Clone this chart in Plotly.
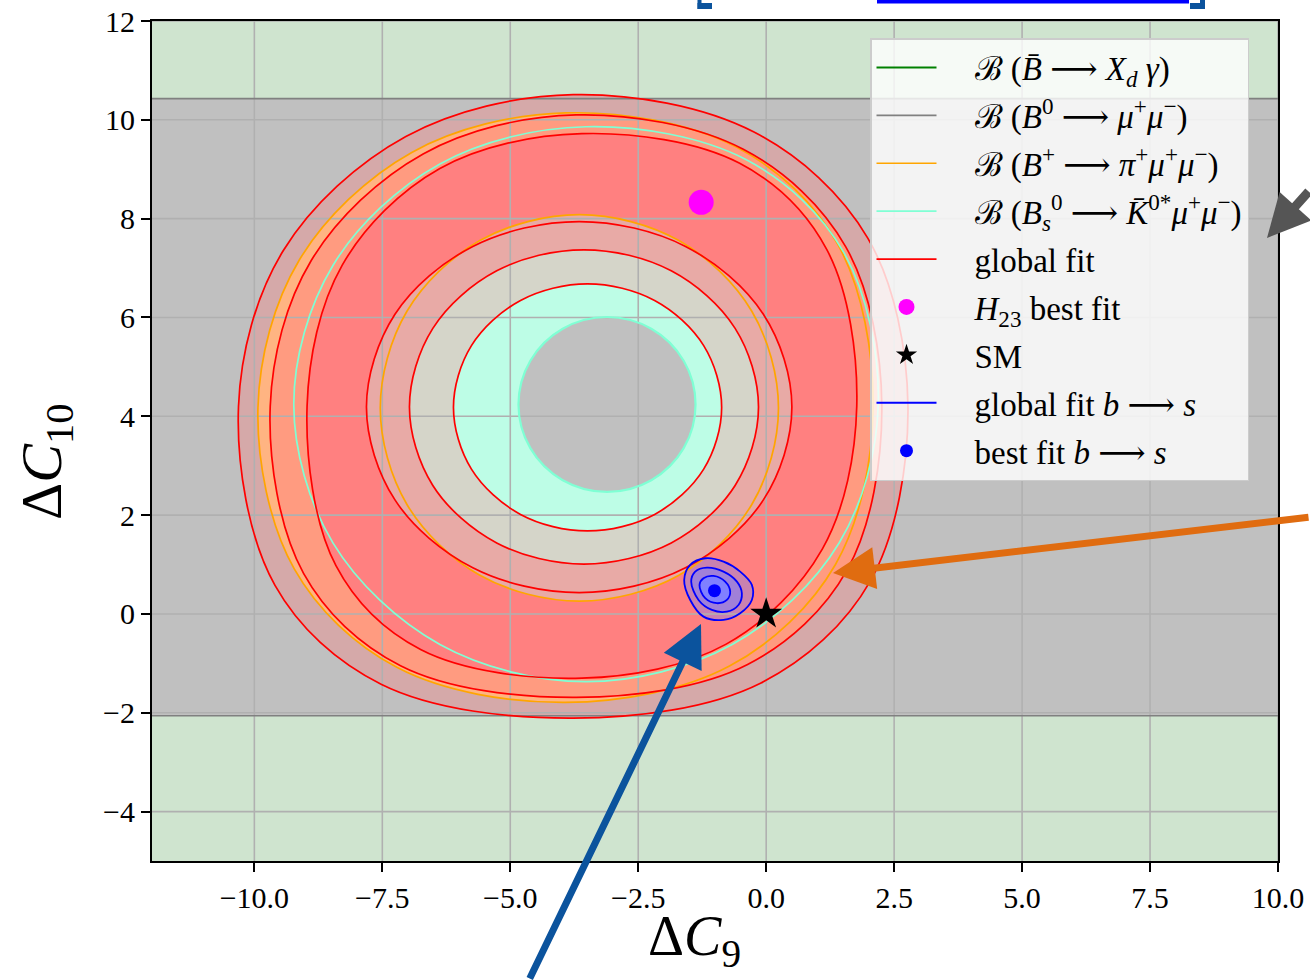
import plotly.graph_objects as go

# ---------------- data ----------------
X_RANGE = [-12, 10]
Y_RANGE = [-5, 12]
X_TICKS = [-10, -7.5, -5, -2.5, 0, 2.5, 5, 7.5, 10]
Y_TICKS = [-4, -2, 0, 2, 4, 6, 8, 10, 12]

# B0 -> mu mu allowed band in Delta C10
B0_BAND = [-2.06, 10.43]

# global fit contours (red): 3 sigma outer/inner, 2 sigma outer/inner, 1 sigma outer/inner
R3O_X = [2.77, 1.985, -0.238, -3.77, -7.04, -9.434, -10.31, -9.597, -7.524, -3.77, -0.101, 2.031]
R3O_Y = [4.20, 7.607, 9.753, 10.51, 9.664, 7.355, 4.20, 0.578, -1.422, -2.11, -1.397, 0.66]
R2O_X = [2.26, 1.555, -0.447, -3.715, -6.703, -8.889, -9.69, -9.039, -7.145, -3.715, -0.363, 1.585]
R2O_Y = [4.205, 7.43, 9.404, 10.10, 9.31, 7.153, 4.205, 0.821, -1.047, -1.69, -1.024, 0.898]
R1O_X = [1.77, 1.185, -0.518, -3.6, -6.376, -8.283, -8.97, -8.406, -6.752, -3.6, -0.781, 1.099]
R1O_Y = [4.21, 7.373, 9.119, 9.72, 9.015, 7.059, 4.21, 0.976, -0.721, -1.30, -0.611, 1.317]
R1I_X = [0.502, -0.055, -1.576, -3.654, -5.732, -7.253, -7.81, -7.253, -5.732, -3.654, -1.576, -0.055]
R1I_Y = [4.186, 6.064, 7.438, 7.941, 7.438, 6.064, 4.186, 2.308, 0.934, 0.431, 0.934, 2.308]
R2I_X = [-0.15, -0.607, -1.855, -3.56, -5.265, -6.513, -6.97, -6.513, -5.265, -3.56, -1.855, -0.607]
R2I_Y = [4.19, 5.78, 6.944, 7.37, 6.944, 5.78, 4.19, 2.6, 1.436, 1.01, 1.436, 2.6]
R3I_X = [-0.87, -1.221, -2.18, -3.49, -4.8, -5.759, -6.11, -5.759, -4.8, -3.49, -2.18, -1.221]
R3I_Y = [4.18, 5.43, 6.345, 6.68, 6.345, 5.43, 4.18, 2.93, 2.015, 1.68, 2.015, 2.93]

# B+ -> pi+ mu+ mu- (orange) outer / inner contour
OO_X = [2.09, 1.399, -0.59, -3.92, -6.925, -9.125, -9.93, -9.221, -7.207, -3.92, -0.717, 1.351]
OO_Y = [4.175, 7.48, 9.454, 10.14, 9.341, 7.158, 4.175, 0.912, -1.086, -1.79, -1.056, 0.996]
OI_X = [0.24, -0.281, -1.705, -3.65, -5.595, -7.019, -7.54, -7.019, -5.595, -3.65, -1.705, -0.281]
OI_Y = [4.17, 6.125, 7.556, 8.08, 7.556, 6.125, 4.17, 2.215, 0.784, 0.26, 0.784, 2.215]

# Bs -> K*0 mu mu (aquamarine) outer / inner contour
CO_X = [2.19, 1.516, -0.397, -3.52, -6.375, -8.465, -9.23, -8.465, -6.375, -3.52, -0.665, 1.425]
CO_Y = [4.245, 7.316, 9.197, 9.86, 9.108, 7.053, 4.245, 1.438, -0.618, -1.37, -0.618, 1.437]
CI_X = [-1.38, -1.612, -2.245, -3.11, -3.975, -4.608, -4.84, -4.608, -3.975, -3.11, -2.245, -1.612]
CI_Y = [4.24, 5.125, 5.773, 6.01, 5.773, 5.125, 4.24, 3.355, 2.707, 2.47, 2.707, 3.355]

# global fit b -> s (blue) contours
BO_X = [-1.602, -1.484, -1.191, -0.833, -0.508, -0.280, -0.280, -0.508, -0.833, -1.225, -1.484]
BO_Y = [0.688, 0.992, 1.127, 1.059, 0.857, 0.587, 0.283, 0.014, -0.121, -0.054, 0.283]
BM_X = [-1.465, -1.387, -1.158, -0.834, -0.572, -0.475, -0.541, -0.768, -1.061, -1.322]
BM_Y = [0.654, 0.856, 0.937, 0.856, 0.654, 0.419, 0.182, 0.047, 0.081, 0.283]
BI_X = [-1.303, -1.225, -1.029, -0.801, -0.703, -0.768, -0.963, -1.191]
BI_Y = [0.587, 0.723, 0.769, 0.654, 0.451, 0.283, 0.217, 0.318]

# points
H23_BEST = [-1.27, 8.33]
SM_POINT = [0.0, 0.0]
BS_BEST = [-1.01, 0.47]

SP = "\u2003"
AR = " ⟶ "
LEGEND_NAMES = [
    SP + "ℬ (<i>B̄</i>" + AR + "<i>X</i><sub><i>d</i></sub> <i>γ</i>)",
    SP + "ℬ (<i>B</i><sup>0</sup>" + AR + "<i>μ</i><sup>+</sup><i>μ</i><sup>−</sup>)",
    SP + "ℬ (<i>B</i><sup>+</sup>" + AR + "<i>π</i><sup>+</sup><i>μ</i><sup>+</sup><i>μ</i><sup>−</sup>)",
    SP + "ℬ (<i>B</i><sub><i>s</i></sub><sup>0</sup>" + AR + "<i>K̄</i><sup>0*</sup><i>μ</i><sup>+</sup><i>μ</i><sup>−</sup>)",
    SP + "global fit",
    SP + "<i>H</i><sub>23</sub> best fit",
    SP + "SM",
    SP + "global fit <i>b</i>" + AR + "<i>s</i>",
    SP + "best fit <i>b</i>" + AR + "<i>s</i>",
]

# ---------------- styling ----------------
FONT = "Liberation Serif, DejaVu Serif, serif"
GREEN_BG = "#cfe4cf"
GRAY_BAND = "#c0c0c0"
RED = "#ff0000"
ORANGE = "#ffa500"
AQUA = "#7fffd4"
BLUE = "#0000ff"

W, H = 1310, 980
ML, MR, MT, MB = 152, 32, 21, 119
PW, PH = W - ML - MR, H - MT - MB


def pxx(p):
    return (p - ML) / PW


def pxy(p):
    return (H - MB - p) / PH


def closed(v):
    return list(v) + [v[0]]


def fill_trace(xs, ys, color):
    return go.Scatter(x=closed(xs), y=closed(ys), mode="lines",
                      line=dict(width=0, shape="spline", smoothing=1),
                      fill="toself", fillcolor=color, hoverinfo="skip",
                      showlegend=False)


def line_trace(xs, ys, color, width=1.7, name=None, rank=None):
    return go.Scatter(x=closed(xs), y=closed(ys), mode="lines",
                      line=dict(color=color, width=width, shape="spline", smoothing=1),
                      hoverinfo="skip", name=name,
                      showlegend=name is not None,
                      legendgroup=name if name else None,
                      legendrank=rank if rank else 1000)


fig = go.Figure()

# gray band (B0 -> mu mu)
fig.add_trace(go.Scatter(
    x=[X_RANGE[0], X_RANGE[1], X_RANGE[1], X_RANGE[0], X_RANGE[0]],
    y=[B0_BAND[0], B0_BAND[0], B0_BAND[1], B0_BAND[1], B0_BAND[0]],
    mode="lines", line=dict(width=0), fill="toself", fillcolor=GRAY_BAND,
    hoverinfo="skip", showlegend=False))

# filled regions, outermost first
fills = [
    (R3O_X, R3O_Y, "#d5a9a9"),
    (OO_X, OO_Y, "#ffb482"),
    (R2O_X, R2O_Y, "#ff9b80"),
    (CO_X, CO_Y, "#ff9b80"),
    (R1O_X, R1O_Y, "#ff8080"),
    (R1I_X, R1I_Y, "#e8aaa6"),
    (OI_X, OI_Y, "#e8aaa6"),
    (R2I_X, R2I_Y, "#d5d5c9"),
    (R3I_X, R3I_Y, "#bdfde6"),
    (CI_X, CI_Y, GRAY_BAND),
    (BO_X, BO_Y, "#c982b0"),
    (BM_X, BM_Y, "#a080d8"),
    (BI_X, BI_Y, "#8080ff"),
]
for xs, ys, c in fills:
    fig.add_trace(fill_trace(xs, ys, c))

# grid lines drawn above the filled regions
gx, gy = [], []
for t in X_TICKS:
    gx += [t, t, None]
    gy += [Y_RANGE[0], Y_RANGE[1], None]
for t in Y_TICKS:
    gx += [X_RANGE[0], X_RANGE[1], None]
    gy += [t, t, None]
fig.add_trace(go.Scatter(x=gx, y=gy, mode="lines", line=dict(color="#b0b0b0", width=1.6),
                         hoverinfo="skip", showlegend=False))

# legend-only entry for B -> X_d gamma (region covers the whole plane)
fig.add_trace(go.Scatter(x=[None], y=[None], mode="lines", line=dict(color="green", width=2),
                         name=LEGEND_NAMES[0], legendgroup="g0", legendrank=1))

# band edges
fig.add_trace(go.Scatter(x=X_RANGE, y=[B0_BAND[1], B0_BAND[1]], mode="lines",
                         line=dict(color="#808080", width=1.7), hoverinfo="skip",
                         name=LEGEND_NAMES[1], legendgroup="g1", legendrank=2))
fig.add_trace(go.Scatter(x=X_RANGE, y=[B0_BAND[0], B0_BAND[0]], mode="lines",
                         line=dict(color="#808080", width=1.7), hoverinfo="skip",
                         showlegend=False))

# orange
fig.add_trace(line_trace(OO_X, OO_Y, ORANGE, name=LEGEND_NAMES[2], rank=3))
fig.add_trace(line_trace(OI_X, OI_Y, ORANGE))
# aquamarine
fig.add_trace(line_trace(CO_X, CO_Y, AQUA, name=LEGEND_NAMES[3], rank=4))
fig.add_trace(line_trace(CI_X, CI_Y, AQUA, width=2.2))
# red
fig.add_trace(line_trace(R3O_X, R3O_Y, RED, name=LEGEND_NAMES[4], rank=5))
for xs, ys in [(R2O_X, R2O_Y), (R1O_X, R1O_Y), (R1I_X, R1I_Y), (R2I_X, R2I_Y), (R3I_X, R3I_Y)]:
    fig.add_trace(line_trace(xs, ys, RED))

# markers
fig.add_trace(go.Scatter(x=[H23_BEST[0]], y=[H23_BEST[1]], mode="markers",
                         marker=dict(color="magenta", size=25, line=dict(width=0)),
                         name=LEGEND_NAMES[5], legendgroup="g5", legendrank=6))
fig.add_trace(go.Scatter(x=[SM_POINT[0]], y=[SM_POINT[1]], mode="markers",
                         marker=dict(color="black", size=24, symbol="star", line=dict(width=0)),
                         name=LEGEND_NAMES[6], legendgroup="g6", legendrank=7))

# blue b -> s contours
fig.add_trace(line_trace(BO_X, BO_Y, BLUE, width=1.8, name=LEGEND_NAMES[7], rank=8))
fig.add_trace(line_trace(BM_X, BM_Y, BLUE, width=1.8))
fig.add_trace(line_trace(BI_X, BI_Y, BLUE, width=1.8))
fig.add_trace(go.Scatter(x=[BS_BEST[0]], y=[BS_BEST[1]], mode="markers",
                         marker=dict(color=BLUE, size=13, line=dict(width=0)),
                         name=LEGEND_NAMES[8], legendgroup="g8", legendrank=9))

axis_common = dict(showgrid=False, zeroline=False, showline=True, linecolor="black",
                   linewidth=2, mirror=True, ticks="outside", ticklen=9, tickwidth=2,
                   tickcolor="black", layer="above traces", automargin=False,
                   tickfont=dict(family=FONT, size=30, color="black"))

annotations = [
    dict(text="Δ<i>C</i><sub>9</sub>", x=pxx(694), y=pxy(940), xref="paper", yref="paper",
         showarrow=False, font=dict(family=FONT, size=56, color="black"),
         xanchor="center", yanchor="middle"),
    dict(text="Δ<i>C</i><sub>10</sub>", x=pxx(45), y=pxy(462), xref="paper", yref="paper",
         showarrow=False, textangle=-90, font=dict(family=FONT, size=58, color="black"),
         xanchor="center", yanchor="middle"),
    # slide arrows
    dict(text="", x=pxx(1267), y=pxy(238), xref="paper", yref="paper", showarrow=True,
         ax=48, ay=-48, arrowhead=2, arrowsize=0.95, arrowwidth=9, arrowcolor="#555555"),
    dict(text="", x=pxx(833), y=pxy(573), xref="paper", yref="paper", showarrow=True,
         ax=482, ay=-56, arrowhead=2, arrowsize=1.2, arrowwidth=7, arrowcolor="#e06c10"),
    dict(text="", x=pxx(701), y=pxy(624), xref="paper", yref="paper", showarrow=True,
         ax=-172, ay=360, arrowhead=2, arrowsize=1.2, arrowwidth=7, arrowcolor="#0b539d"),
]

shapes = [
    dict(type="rect", xref="paper", yref="paper", x0=pxx(697.5), x1=pxx(701.5), y0=pxy(9), y1=pxy(-2),
         fillcolor="#0b539d", line=dict(width=0)),
    dict(type="rect", xref="paper", yref="paper", x0=pxx(697.5), x1=pxx(712), y0=pxy(9), y1=pxy(3),
         fillcolor="#0b539d", line=dict(width=0)),
    dict(type="rect", xref="paper", yref="paper", x0=pxx(877), x1=pxx(1189), y0=pxy(3.5), y1=pxy(-2),
         fillcolor="#0000ff", line=dict(width=0)),
    dict(type="rect", xref="paper", yref="paper", x0=pxx(1190), x1=pxx(1205), y0=pxy(9), y1=pxy(3),
         fillcolor="#0b539d", line=dict(width=0)),
    dict(type="rect", xref="paper", yref="paper", x0=pxx(1200), x1=pxx(1205), y0=pxy(9), y1=pxy(-2),
         fillcolor="#0b539d", line=dict(width=0)),
]

fig.update_layout(
    width=W, height=H,
    margin=dict(l=ML, r=MR, t=MT, b=MB, pad=0, autoexpand=False),
    paper_bgcolor="white", plot_bgcolor=GREEN_BG,
    font=dict(family=FONT, color="black"),
    xaxis=dict(range=X_RANGE, tickvals=X_TICKS, tickformat=".1f", **axis_common),
    yaxis=dict(range=Y_RANGE, tickvals=Y_TICKS, **axis_common),
    legend=dict(x=pxx(870), y=pxy(38), xanchor="left", yanchor="top",
                bgcolor="rgba(255,255,255,0.8)", bordercolor="#cccccc", borderwidth=1.5,
                font=dict(family=FONT, size=33, color="black"),
                traceorder="grouped", tracegroupgap=2, itemwidth=60),
    annotations=annotations,
    shapes=shapes,
    showlegend=True,
)

fig.write_html("out.html")
